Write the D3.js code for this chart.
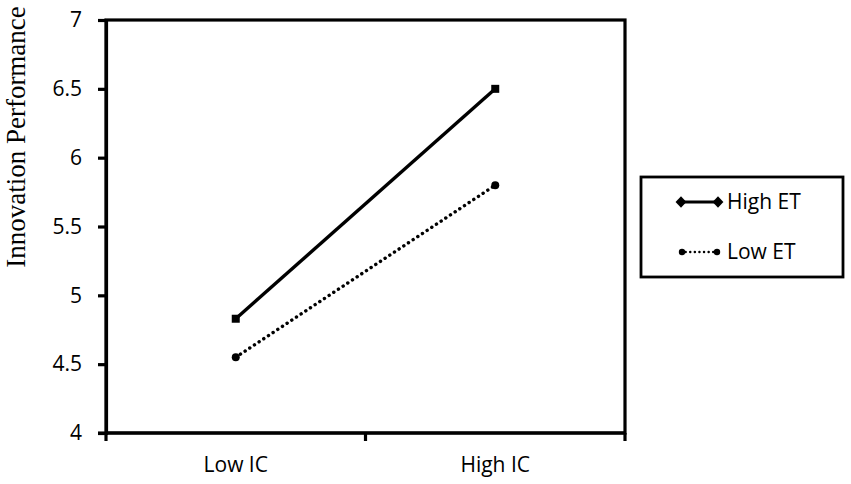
<!DOCTYPE html>
<html>
<head>
<meta charset="utf-8">
<script src="https://cdn.jsdelivr.net/npm/d3@7"></script>
<style>
  body { margin: 0; background: #fff; }
  svg { display: block; }
</style>
</head>
<body>
<div id="chart"></div>
<script>
const categories = ['Low IC', 'High IC']
const seriesNames = ['High ET', 'Low ET']
const highET = [4.83, 6.5]
const lowET = [4.55, 5.8]
const yTicks = [4, 4.5, 5, 5.5, 6, 6.5, 7]

const width = 851
const height = 484
const margin = {top: 20, left: 106, right: 226, bottom: 51}
const plotW = width - margin.left - margin.right
const plotH = height - margin.top - margin.bottom

const svg = d3.select('#chart')
  .append('svg')
  .attr('width', width)
  .attr('height', height)

const x = d3.scaleBand()
  .domain(categories)
  .range([margin.left, margin.left + plotW])

const y = d3.scaleLinear()
  .domain([4, 7])
  .range([margin.top + plotH, margin.top])

// plot frame
svg.append('rect')
  .attr('x', margin.left)
  .attr('y', margin.top)
  .attr('width', plotW)
  .attr('height', plotH)
  .attr('fill', 'none')
  .attr('stroke', '#000')
  .attr('stroke-width', 3.2)

// y axis
const yAxis = svg.append('g')
  .attr('transform', `translate(${margin.left},0)`)
  .call(d3.axisLeft(y).tickValues(yTicks).tickSize(8).tickPadding(16)
    .tickFormat(d3.format('')))
yAxis.select('.domain').attr('stroke-width', 3.2)
yAxis.selectAll('.tick line').attr('stroke-width', 3.2)
yAxis.selectAll('text')
  .style('font-family', '"Open Sans", sans-serif')
  .style('font-size', '21px')
  .attr('fill', '#000')

// x axis: ticks at band edges, labels at band centres
const xEdges = [margin.left, margin.left + x.bandwidth(), margin.left + plotW]
const xAxis = svg.append('g')
  .attr('transform', `translate(0,${margin.top + plotH})`)
xAxis.append('line')
  .attr('x1', margin.left - 8)
  .attr('x2', margin.left + plotW)
  .attr('stroke', '#000')
  .attr('stroke-width', 3.2)
xAxis.selectAll('.xtick')
  .data(xEdges)
  .enter()
  .append('line')
  .attr('x1', d => d)
  .attr('x2', d => d)
  .attr('y1', 0)
  .attr('y2', 8)
  .attr('stroke', '#000')
  .attr('stroke-width', 3.2)
xAxis.selectAll('.xlabel')
  .data(categories)
  .enter()
  .append('text')
  .attr('x', d => x(d) + x.bandwidth() / 2)
  .attr('y', 39)
  .attr('text-anchor', 'middle')
  .style('font-family', '"Open Sans", sans-serif')
  .style('font-size', '21px')
  .text(d => d)

// y label
svg.append('text')
  .attr('transform', 'translate(25,137) rotate(-90)')
  .attr('text-anchor', 'middle')
  .style('font-family', '"Liberation Serif", "Times New Roman", serif')
  .style('font-size', '27px')
  .text('Innovation Performance')

const line = d3.line()
  .x((d, i) => x(categories[i]) + x.bandwidth() / 2)
  .y(d => y(d))

// High ET
svg.append('path')
  .datum(highET)
  .attr('d', line)
  .attr('fill', 'none')
  .attr('stroke', '#000')
  .attr('stroke-width', 3.4)
svg.selectAll('.hi-mark')
  .data(highET)
  .enter()
  .append('rect')
  .attr('x', (d, i) => x(categories[i]) + x.bandwidth() / 2 - 4)
  .attr('y', d => y(d) - 4)
  .attr('width', 8)
  .attr('height', 8)
  .attr('fill', '#000')

// Low ET
svg.append('path')
  .datum(lowET)
  .attr('d', line)
  .attr('fill', 'none')
  .attr('stroke', '#000')
  .attr('stroke-width', 3.4)
  .attr('stroke-linecap', 'round')
  .attr('stroke-dasharray', '0.1,5.5')
svg.selectAll('.lo-mark')
  .data(lowET)
  .enter()
  .append('circle')
  .attr('cx', (d, i) => x(categories[i]) + x.bandwidth() / 2)
  .attr('cy', d => y(d))
  .attr('r', 4)
  .attr('fill', '#000')

// legend
const legend = svg.append('g')
legend.append('rect')
  .attr('x', 641)
  .attr('y', 177)
  .attr('width', 202)
  .attr('height', 100)
  .attr('fill', '#fff')
  .attr('stroke', '#000')
  .attr('stroke-width', 2.8)

const rows = legend.selectAll('.row')
  .data(seriesNames)
  .enter()
  .append('g')
  .attr('transform', (d, i) => `translate(0,${202 + i * 50})`)

rows.append('line')
  .attr('x1', 681)
  .attr('x2', 718)
  .attr('stroke', '#000')
  .attr('stroke-width', (d, i) => i === 0 ? 2.8 : 2.4)
  .attr('stroke-linecap', (d, i) => i === 0 ? 'butt' : 'round')
  .attr('stroke-dasharray', (d, i) => i === 0 ? null : '0.1,4.5')

const diamond = d3.symbol().type(d3.symbolDiamond).size(60)
rows.filter((d, i) => i === 0)
  .selectAll('.dm')
  .data([681, 718])
  .enter()
  .append('path')
  .attr('d', diamond)
  .attr('transform', d => `translate(${d},0) scale(1.3,0.8)`)
  .attr('fill', '#000')
rows.filter((d, i) => i === 1)
  .selectAll('.dt')
  .data([682, 717])
  .enter()
  .append('circle')
  .attr('cx', d => d)
  .attr('r', 3.2)
  .attr('fill', '#000')

rows.append('text')
  .attr('x', 727)
  .attr('y', 7)
  .style('font-family', '"Open Sans", sans-serif')
  .style('font-size', '21px')
  .text(d => d)
</script>
</body>
</html>
